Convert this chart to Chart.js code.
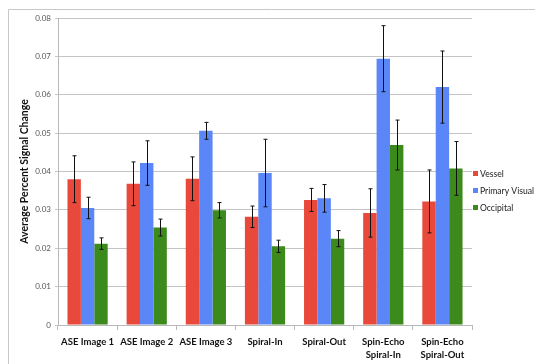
<!DOCTYPE html>
<html>
<head>
<meta charset="utf-8">
<script src="https://cdn.jsdelivr.net/npm/chart.js@4"></script>
<style>
  html, body { margin: 0; padding: 0; background: #fff; }
  #wrap { width: 535px; height: 364px; position: relative; }
</style>
</head>
<body>
<div id="wrap"><canvas id="chart" width="535" height="364"></canvas></div>
<script>
// categories and series
const CATEGORIES = [
  'ASE Image 1', 'ASE Image 2', 'ASE Image 3', 'Spiral-In', 'Spiral-Out',
  ['Spin-Echo', 'Spiral-In'], ['Spin-Echo', 'Spiral-Out']
];
const SERIES_NAMES = ['Vessel', 'Primary Visual', 'Occipital'];
const COLORS = ['#E8493A', '#5A86F8', '#3C8A1C'];

const vessel        = [0.0380, 0.0368, 0.0381, 0.0282, 0.0326, 0.0292, 0.0322];
const primaryVisual = [0.0305, 0.0422, 0.0506, 0.0396, 0.0330, 0.0694, 0.0620];
const occipital     = [0.0212, 0.0254, 0.0299, 0.0205, 0.0225, 0.0469, 0.0408];

// error bar half-widths
const vesselErr        = [0.0061, 0.0057, 0.0057, 0.0028, 0.0030, 0.0063, 0.0082];
const primaryVisualErr = [0.0028, 0.0058, 0.0022, 0.0088, 0.0036, 0.0086, 0.0094];
const occipitalErr     = [0.0015, 0.0022, 0.0020, 0.0016, 0.0021, 0.0065, 0.0070];

const Y_TICKS = [0, 0.01, 0.02, 0.03, 0.04, 0.05, 0.06, 0.07, 0.08];

const values = [vessel, primaryVisual, occipital];
const errors = [vesselErr, primaryVisualErr, occipitalErr];

// draws the gray frame round the chart
const framePlugin = {
  id: 'frame',
  beforeDraw(chart) {
    const ctx = chart.ctx;
    ctx.save();
    ctx.strokeStyle = '#c8c8c8';
    ctx.lineWidth = 1;
    ctx.beginPath();
    ctx.moveTo(8.5, 364);
    ctx.lineTo(8.5, 9.5);
    ctx.lineTo(535, 9.5);
    ctx.stroke();
    ctx.restore();
  }
};

// error bars drawn through the y scale
const errorBarPlugin = {
  id: 'errorBars',
  afterDatasetsDraw(chart) {
    const ctx = chart.ctx;
    const y = chart.scales.y;
    ctx.save();
    ctx.strokeStyle = '#111';
    ctx.lineWidth = 1;
    chart.data.datasets.forEach((ds, di) => {
      const meta = chart.getDatasetMeta(di);
      meta.data.forEach((bar, i) => {
        const v = ds.data[i];
        const e = errors[di][i];
        const x = Math.round(bar.x) + 0.5;
        const yTop = y.getPixelForValue(v + e);
        const yBot = y.getPixelForValue(v - e);
        ctx.beginPath();
        ctx.moveTo(x, yTop);
        ctx.lineTo(x, yBot);
        ctx.moveTo(x - 2, yTop);
        ctx.lineTo(x + 2, yTop);
        ctx.moveTo(x - 2, yBot);
        ctx.lineTo(x + 2, yBot);
        ctx.stroke();
      });
    });
    ctx.restore();
  }
};

// legend on the right, small squares
const legendPlugin = {
  id: 'sideLegend',
  afterDraw(chart) {
    const ctx = chart.ctx;
    const x0 = chart.chartArea.right + 1;
    const rows = [174, 191, 208];
    ctx.save();
    ctx.font = '8.6px Lato';
    ctx.textBaseline = 'middle';
    SERIES_NAMES.forEach((name, i) => {
      ctx.fillStyle = COLORS[i];
      ctx.fillRect(x0, rows[i] - 3, 5, 5);
      ctx.fillStyle = '#222';
      ctx.fillText(name, x0 + 7, rows[i]);
    });
    ctx.restore();
  }
};

new Chart(document.getElementById('chart'), {
  type: 'bar',
  data: {
    labels: CATEGORIES,
    datasets: SERIES_NAMES.map((name, i) => ({
      label: name,
      data: values[i],
      backgroundColor: COLORS[i],
      borderWidth: 0,
      categoryPercentage: 0.68,
      barPercentage: 1.0
    }))
  },
  options: {
    responsive: false,
    animation: false,
    layout: { padding: { left: 18, top: 18, right: 63, bottom: 0 } },
    plugins: {
      legend: { display: false },
      tooltip: { enabled: false }
    },
    scales: {
      x: {
        grid: { display: true, drawOnChartArea: false, offset: true, tickLength: 5, color: '#b8b8b8' },
        border: { color: '#b8b8b8' },
        ticks: { color: '#111', font: { family: 'Lato', size: 9.5, weight: 'bold', lineHeight: 1.35 }, maxRotation: 0, padding: 6 },
        afterFit(scale) { scale.height = 39; }
      },
      y: {
        min: 0,
        max: 0.08,
        afterBuildTicks(scale) { scale.ticks = Y_TICKS.map(v => ({ value: v })); },
        grid: { color: '#c4c4c4', tickLength: 3 },
        border: { color: '#b8b8b8' },
        ticks: {
          color: '#555',
          font: { family: 'Lato', size: 8 },
          padding: 4,
          callback: v => v === 0 ? '0' : v.toFixed(2)
        },
        title: {
          display: true,
          text: 'Average Percent Signal Change',
          color: '#111',
          font: { family: 'Lato', size: 10.5, weight: 'bold' },
          padding: { top: 0, bottom: 6 }
        },
        afterFit(scale) { scale.width = 40; }
      }
    }
  },
  plugins: [framePlugin, errorBarPlugin, legendPlugin]
});
</script>
</body>
</html>
